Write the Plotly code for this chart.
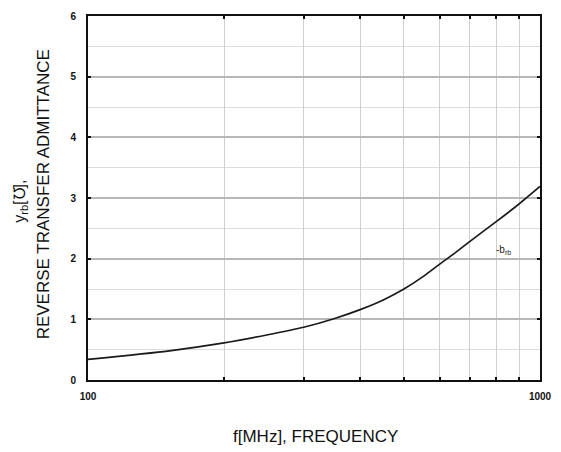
import math
import plotly.graph_objects as go

freq_mhz = [100, 150, 200, 250, 300, 350, 400, 450, 500, 550, 600, 650, 700, 800, 900, 1000]
neg_b_rb = [0.34, 0.477, 0.612, 0.746, 0.87, 1.01, 1.16, 1.32, 1.50, 1.70, 1.91, 2.10, 2.285, 2.61, 2.905, 3.19]

x_tickvals = [100, 200, 300, 400, 500, 600, 700, 800, 900, 1000]
x_ticktext = ["100", "", "", "", "", "", "", "", "", "1000"]
y_tickvals = [0, 1, 2, 3, 4, 5, 6]

series_label = "-b<sub>rb</sub>"
label_freq = 830
label_value = 2.14

FONT = "Liberation Sans, Arial"

fig = go.Figure()
fig.add_trace(go.Scatter(
    x=freq_mhz, y=neg_b_rb, mode="lines",
    line=dict(color="#1a1a1a", width=1.7, shape="spline", smoothing=0.5),
    showlegend=False, hoverinfo="skip",
))

# annotations on a log axis take log10 coordinates
fig.add_annotation(
    x=math.log10(label_freq), y=label_value, xref="x", yref="y",
    text=series_label, showarrow=False,
    font=dict(family=FONT, size=10, color="#222"),
)

fig.add_annotation(
    x=-0.150, y=0.49, xref="paper", yref="paper",
    xanchor="center", yanchor="middle",
    text="y<sub>rb</sub>[℧],",
    textangle=-90, showarrow=False,
    font=dict(family=FONT, size=16, color="#111"),
)
fig.add_annotation(
    x=-0.0996, y=0.51, xref="paper", yref="paper",
    xanchor="center", yanchor="middle",
    text="REVERSE TRANSFER ADMITTANCE",
    textangle=-90, showarrow=False,
    font=dict(family=FONT, size=17, color="#111"),
)
fig.add_annotation(
    x=0.504, y=-0.154, xref="paper", yref="paper",
    xanchor="center", yanchor="middle",
    text="f[MHz], FREQUENCY",
    showarrow=False,
    font=dict(family=FONT, size=17, color="#111"),
)

fig.update_layout(
    width=561, height=452,
    margin=dict(l=80, r=29, t=2, b=80),
    paper_bgcolor="white", plot_bgcolor="white",
    xaxis=dict(
        type="log", range=[2, 3],
        tickvals=x_tickvals, ticktext=x_ticktext,
        showgrid=True, gridcolor="#cfcfcf", gridwidth=1.3,
        ticks="inside", ticklen=3, tickcolor="#111", tickwidth=1.5,
        showline=True, linecolor="#111", linewidth=2, mirror="ticks",
        tickfont=dict(family=FONT, size=10, color="#111", weight="bold"),
        ticklabelstandoff=6,
        ticklabeloverflow="allow",
        zeroline=False,
    ),
    yaxis=dict(
        range=[0, 6], tickvals=y_tickvals,
        showgrid=True, gridcolor="#b8b8b8", gridwidth=1.5,
        minor=dict(dtick=0.5, showgrid=True, gridcolor="#dcdcdc", gridwidth=1.2),
        ticks="inside", ticklen=3, tickcolor="#111", tickwidth=1.5,
        showline=True, linecolor="#111", linewidth=2, mirror="ticks",
        tickfont=dict(family=FONT, size=10, color="#111", weight="bold"),
        ticklabelstandoff=8,
        ticklabeloverflow="allow",
        zeroline=False,
    ),
)

fig.write_html("out.html")
